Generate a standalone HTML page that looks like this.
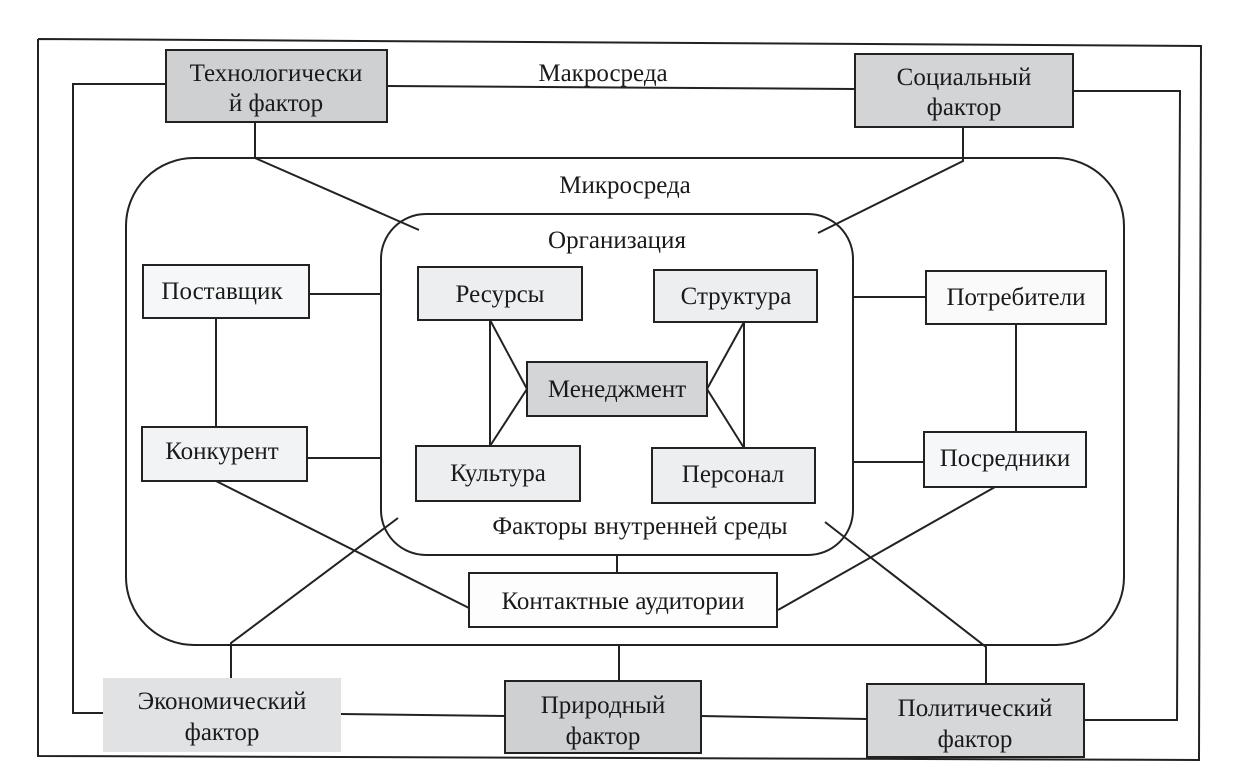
<!DOCTYPE html>
<html><head><meta charset="utf-8"><style>
html,body{margin:0;padding:0;background:#fff}
svg{display:block}
text{font-family:"Liberation Serif",serif;font-size:25px;fill:#1a1a1a;text-anchor:middle}
</style></head><body>
<svg width="1242" height="783" viewBox="0 0 1242 783" xmlns="http://www.w3.org/2000/svg">
<g fill="none" stroke="#222" stroke-width="2">
<polyline points="38,39 1201,46 1199,760 38,756 38,39"/>
<polyline points="166,84 73,84 73,713 103,713"/>
<line x1="387" y1="86" x2="855" y2="89"/>
<polyline points="1073,91 1180,91 1177,720 1084,720"/>
<line x1="341" y1="714" x2="505" y2="716"/>
<line x1="701" y1="716" x2="867" y2="719"/>
<rect x="126" y="158" width="998" height="487" rx="68" ry="68"/>
<rect x="381" y="214" width="472" height="341" rx="45" ry="45"/>
<polyline points="255,122 255,158 419,230"/>
<polyline points="963,127 963,161 818,233"/>
<line x1="216" y1="318" x2="216" y2="427"/>
<line x1="309" y1="294" x2="381" y2="294"/>
<line x1="307" y1="458" x2="381" y2="458"/>
<line x1="216" y1="481" x2="469" y2="608"/>
<line x1="1016" y1="324" x2="1016" y2="432"/>
<line x1="853" y1="297" x2="926" y2="297"/>
<line x1="853" y1="462" x2="924" y2="462"/>
<line x1="995" y1="487" x2="778" y2="610"/>
<polyline points="490,320 490,446"/>
<polyline points="490,320 527,389 490,446"/>
<polyline points="744,322 744,448"/>
<polyline points="744,322 707,389 744,448"/>
<line x1="617" y1="555" x2="617" y2="573"/>
<polyline points="231,678 231,643 398,518"/>
<line x1="619" y1="644" x2="619" y2="681"/>
<polyline points="986,684 986,647 825,522"/>
</g>
<g stroke="#222" stroke-width="2">
<rect x="166" y="50" width="221" height="72" fill="#cfd0d2"/>
<rect x="855" y="54" width="218" height="73" fill="#d3d4d6"/>
<rect x="143" y="265" width="166" height="53" fill="#f6f7f8"/>
<rect x="142" y="427" width="165" height="54" fill="#f2f3f5"/>
<rect x="418" y="267" width="164" height="53" fill="#eceef0"/>
<rect x="654" y="270" width="163" height="52" fill="#eceef0"/>
<rect x="527" y="362" width="180" height="54" fill="#d4d5d7"/>
<rect x="416" y="446" width="164" height="55" fill="#eceef0"/>
<rect x="652" y="448" width="163" height="55" fill="#eceef0"/>
<rect x="926" y="271" width="180" height="53" fill="#fafafa"/>
<rect x="924" y="432" width="162" height="55" fill="#f6f7f8"/>
<rect x="469" y="573" width="308" height="54" fill="#fdfdfd"/>
<rect x="505" y="681" width="196" height="72" fill="#cfd0d2"/>
<rect x="867" y="684" width="217" height="73" fill="#d6d7d9"/>
</g>
<rect x="103" y="678" width="238" height="74" fill="#e0e2e4"/>
<text x="276" y="81">Технологически</text>
<text x="276" y="111">й фактор</text>
<text x="964" y="85">Социальный</text>
<text x="964" y="115">фактор</text>
<text x="603" y="81">Макросреда</text>
<text x="625" y="193">Микросреда</text>
<text x="617" y="248">Организация</text>
<text x="222" y="299">Поставщик</text>
<text x="222" y="459">Конкурент</text>
<text x="500" y="302">Ресурсы</text>
<text x="736" y="304">Структура</text>
<text x="617" y="397">Менеджмент</text>
<text x="498" y="481">Культура</text>
<text x="733" y="482">Персонал</text>
<text x="1016" y="305">Потребители</text>
<text x="1005" y="466">Посредники</text>
<text x="640" y="534">Факторы внутренней среды</text>
<text x="623" y="609">Контактные аудитории</text>
<text x="222" y="709">Экономический</text>
<text x="222" y="740">фактор</text>
<text x="603" y="713">Природный</text>
<text x="603" y="744">фактор</text>
<text x="975" y="716">Политический</text>
<text x="975" y="747">фактор</text>
</svg>
</body></html>
